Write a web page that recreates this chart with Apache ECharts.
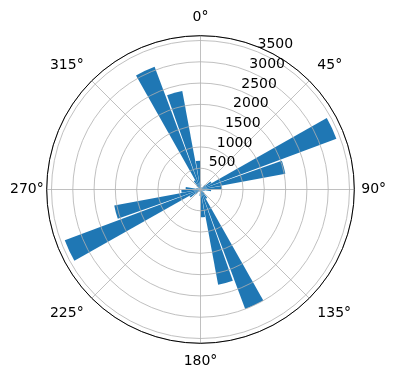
<!DOCTYPE html>
<html><head><meta charset="utf-8">
<script src="https://cdn.jsdelivr.net/npm/echarts@6/dist/echarts.min.js"></script>
<style>html,body{margin:0;padding:0;background:#fff}#c{width:396px;height:380px}</style>
</head><body><div id="c"></div>
<script>
// bin centers (degrees, clockwise from north)
const directions = [5,15,25,35,45,55,65,75,85,95,105,115,125,135,145,155,165,175,185,195,205,215,225,235,245,255,265,275,285,295,305,315,325,335,345,355];
const counts = [120,60,40,60,150,300,3408,2027,500,250,100,50,60,120,250,2998,2274,653,150,60,40,60,150,300,3404,2061,450,350,100,50,60,120,250,3077,2351,676];
const angleTicks = [0,45,90,135,180,225,270,315];
const radialTicks = [500,1000,1500,2000,2500,3000,3500];
const rMax = 3613;

const C = [200.5, 189.5], R = 153.8;
const font = 'DejaVu Sans';
const base = {fontSize:14, fontFamily:font, color:'#000'};
const pads = {0:[0,0,8,0],45:[0,0,6,6],90:[0,0,0,4],135:[6,0,0,6],180:[8,0,0,0],225:[6,6,0,0],270:[0,0,0,0],315:[0,6,6,0]};
const rich = {};
angleTicks.forEach(a => { rich['p'+a] = Object.assign({padding:pads[a]}, base); });

const chart = echarts.init(document.getElementById('c'), null, {renderer:'canvas'});
chart.setOption({
  animation:false,
  polar:[{center:C, radius:R},{center:C, radius:R},{center:C, radius:R}],
  angleAxis:[
    {polarIndex:0, type:'category', data:directions.map(String), startAngle:90, clockwise:true, show:false},
    {polarIndex:1, type:'value', min:0, max:360, interval:45, startAngle:90, clockwise:true, z:10,
     axisLine:{show:true, lineStyle:{color:'#000', width:1}},
     axisTick:{show:false},
     splitLine:{show:true, lineStyle:{color:'#b0b0b0', width:0.8}},
     axisLabel:{show:true, margin:3, color:'#000', fontSize:14, fontFamily:font, rich:rich,
       formatter:v=> angleTicks.indexOf(v)>=0 ? '{p'+v+'|'+v+'°}' : ''}},
    {polarIndex:2, type:'value', min:0, max:360, startAngle:67.5, clockwise:true, show:false}
  ],
  radiusAxis:[
    {polarIndex:0, type:'value', min:0, max:rMax, show:false},
    {polarIndex:1, type:'value', min:0, max:rMax, interval:500, z:10,
     axisLine:{show:false}, axisTick:{show:false}, axisLabel:{show:false},
     splitLine:{show:true, lineStyle:{color:'#b0b0b0', width:0.8}}},
    {polarIndex:2, type:'value', min:0, max:rMax, interval:500, z:11,
     axisLine:{show:false}, axisTick:{show:false}, splitLine:{show:false},
     axisLabel:{show:true, margin:0, align:'left', verticalAlign:'bottom', color:'#000', fontSize:14, fontFamily:font,
       formatter:v=> radialTicks.indexOf(v)>=0 ? String(v) : ''}}
  ],
  series:[{type:'bar', coordinateSystem:'polar', polarIndex:0, data:counts, barCategoryGap:'10%',
    itemStyle:{color:'#1f77b4'}, z:2}]
});
</script></body></html>
